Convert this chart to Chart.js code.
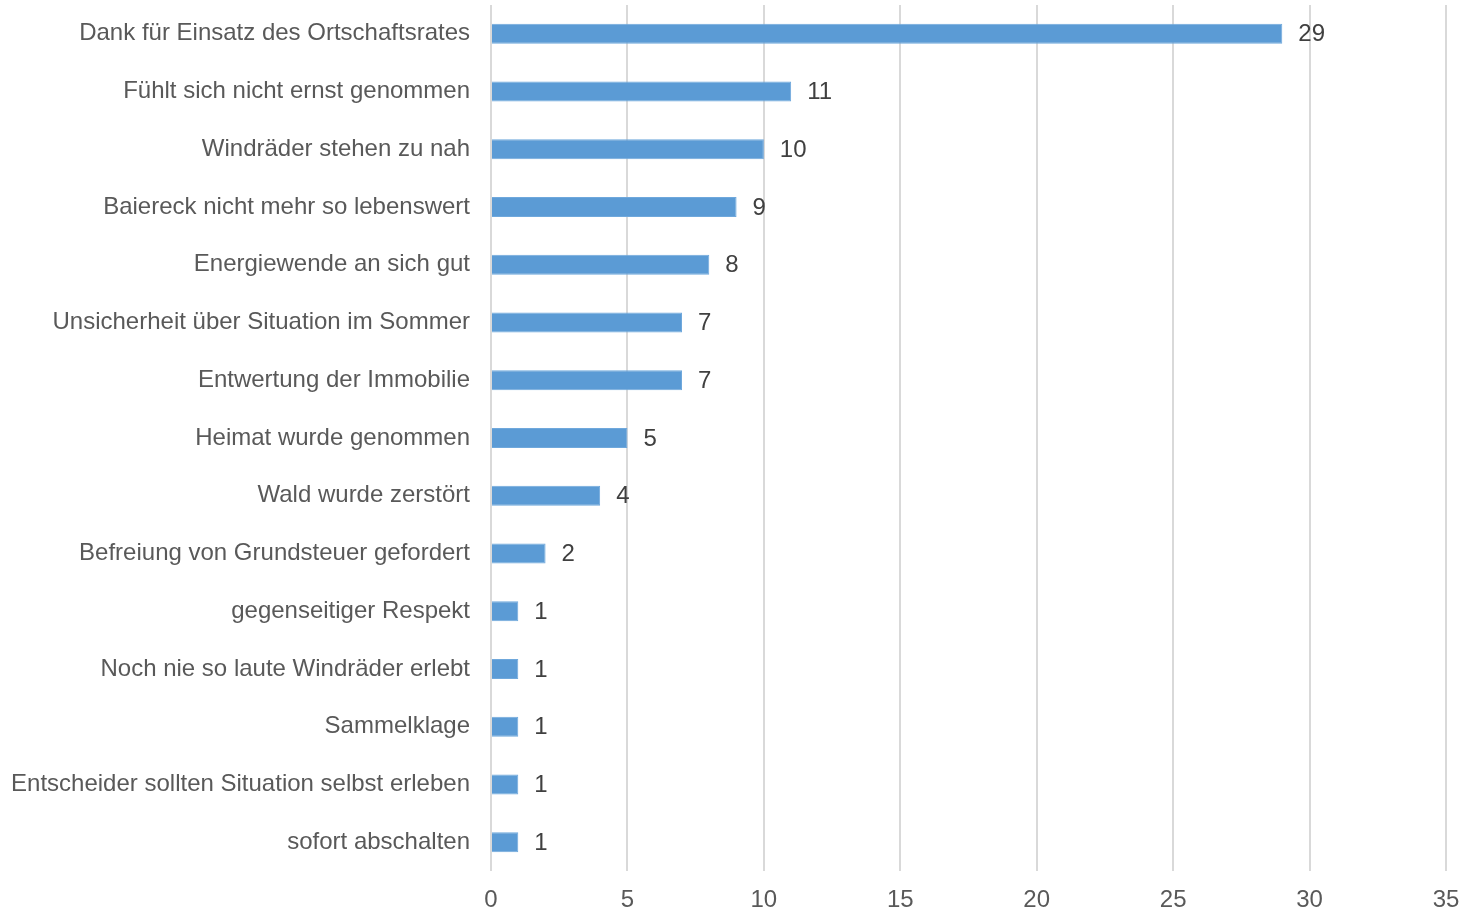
<!DOCTYPE html>
<html>
<head>
<meta charset="utf-8">
<script src="https://cdn.jsdelivr.net/npm/chart.js@4/dist/chart.umd.min.js"></script>
<style>
  html, body { margin: 0; padding: 0; background: #fff; }
  #wrap { width: 1461px; height: 911px; }
</style>
</head>
<body>
<div id="wrap"><canvas id="chart"></canvas></div>
<script>
const categories = [
  "Dank für Einsatz des Ortschaftsrates",
  "Fühlt sich nicht ernst genommen",
  "Windräder stehen zu nah",
  "Baiereck nicht mehr so lebenswert",
  "Energiewende an sich gut",
  "Unsicherheit über Situation im Sommer",
  "Entwertung der Immobilie",
  "Heimat wurde genommen",
  "Wald wurde zerstört",
  "Befreiung von Grundsteuer gefordert",
  "gegenseitiger Respekt",
  "Noch nie so laute Windräder erlebt",
  "Sammelklage",
  "Entscheider sollten Situation selbst erleben",
  "sofort abschalten"
];
const counts = [29, 11, 10, 9, 8, 7, 7, 5, 4, 2, 1, 1, 1, 1, 1];
const xTicks = [0, 5, 10, 15, 20, 25, 30, 35];

const chartDiv = document.getElementById("chart");
const fontFamily = "'Liberation Sans', Arial, sans-serif";

// value labels to the right of each bar
const valueLabels = {
  id: "valueLabels",
  afterDatasetsDraw: (chart) => {
    const ctx = chart.ctx;
    const meta = chart.getDatasetMeta(0);
    ctx.save();
    ctx.font = "24px " + fontFamily;
    ctx.fillStyle = "#404040";
    ctx.textAlign = "left";
    ctx.textBaseline = "middle";
    meta.data.forEach((bar, i) => {
      ctx.fillText(String(counts[i]), bar.x + 16, bar.y + 1);
    });
    ctx.restore();
  },
};

new Chart(chartDiv, {
  type: "bar",
  data: {
    labels: categories,
    datasets: [
      {
        data: counts,
        backgroundColor: "#5b9bd5",
        borderColor: "#6fa8dc",
        borderWidth: 1,
        categoryPercentage: 0.7,
        barPercentage: 0.495,
      },
    ],
  },
  options: {
    indexAxis: "y",
    responsive: true,
    maintainAspectRatio: false,
    animation: false,
    layout: {
      padding: { top: 5, right: 15, bottom: 0, left: 0 },
    },
    scales: {
      x: {
        min: 0,
        max: 35,
        afterBuildTicks: (scale) => {
          scale.ticks = xTicks.map((v) => ({ value: v }));
        },
        afterFit: (scale) => {
          scale.height = 40;
          scale.paddingLeft = 0;
          scale.paddingRight = 0;
        },
        grid: {
          color: "#d9d9d9",
          lineWidth: 2,
          drawTicks: false,
        },
        border: { display: false },
        ticks: {
          padding: 15,
          color: "#595959",
          font: { family: fontFamily, size: 24 },
        },
      },
      y: {
        afterFit: (scale) => {
          scale.width = 491;
          scale.paddingTop = 0;
          scale.paddingBottom = 0;
        },
        grid: { display: false, drawTicks: false },
        border: { display: false },
        ticks: {
          padding: 21,
          color: "#595959",
          font: { family: fontFamily, size: 24 },
        },
      },
    },
    plugins: {
      legend: { display: false },
      title: { display: false },
      tooltip: { enabled: false },
    },
  },
  plugins: [valueLabels],
});
</script>
</body>
</html>
